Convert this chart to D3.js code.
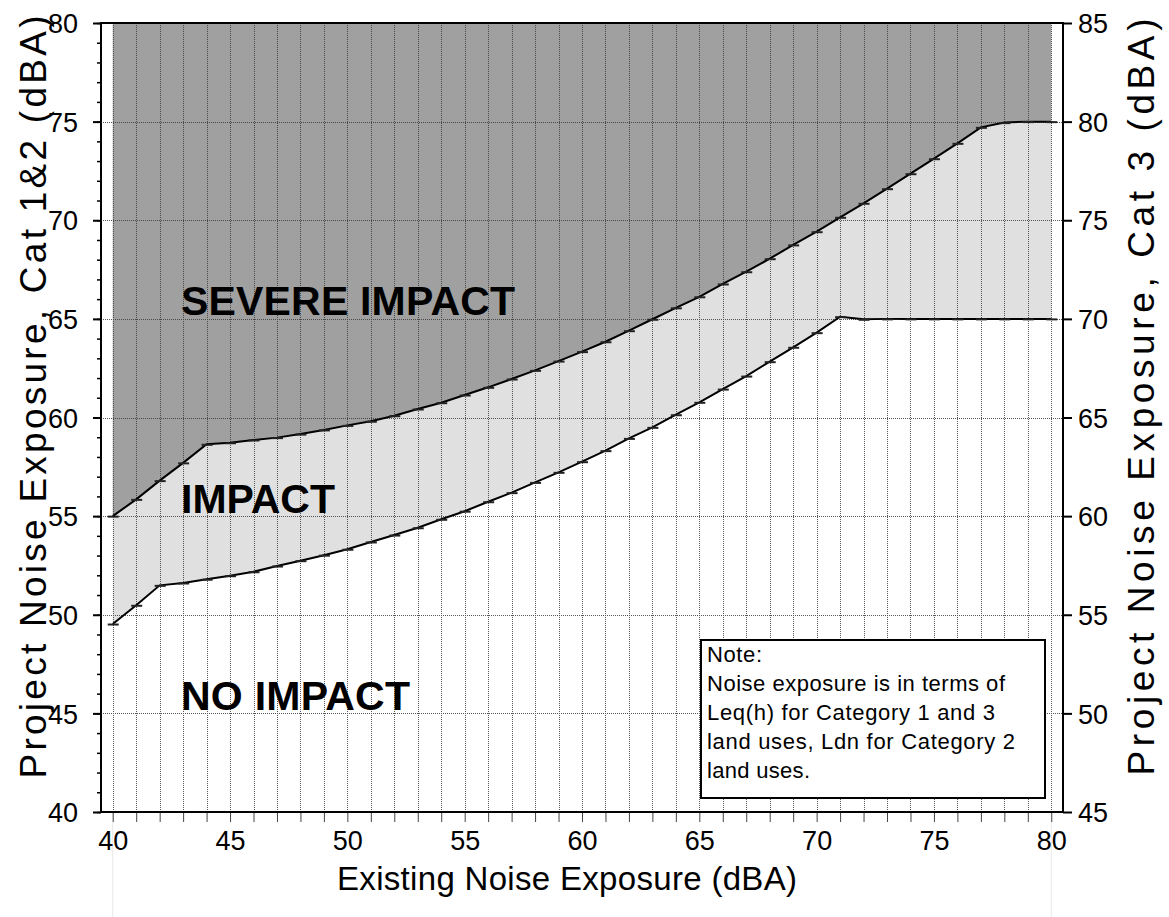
<!DOCTYPE html>
<html>
<head>
<meta charset="utf-8">
<script src="https://cdn.jsdelivr.net/npm/d3@7"></script>
<style>
  html, body { margin: 0; padding: 0; background: #fff; }
  svg { display: block; font-family: "Liberation Sans", Arial, sans-serif; }
</style>
</head>
<body>
<svg id="chart" width="1169" height="917"></svg>
<script>
// ---- data ----
const existing = [40,41,42,43,44,45,46,47,48,49,50,51,52,53,54,55,56,57,58,59,60,
                  61,62,63,64,65,66,67,68,69,70,71,72,73,74,75,76,77,78,79,80];
const severeOnset = [55.0,55.85,56.8,57.7,58.64,58.72,58.86,58.98,59.16,59.37,59.6,
                     59.81,60.09,60.43,60.75,61.14,61.53,61.95,62.39,62.86,63.34,
                     63.84,64.4,64.98,65.56,66.12,66.77,67.39,68.05,68.75,69.42,
                     70.15,70.86,71.6,72.36,73.12,73.9,74.71,74.95,75.0,75.0];
const impactOnset = [49.53,50.48,51.49,51.61,51.8,51.98,52.18,52.47,52.74,53.02,53.32,
                     53.69,54.04,54.41,54.84,55.25,55.73,56.19,56.71,57.22,57.76,
                     58.32,58.94,59.5,60.14,60.77,61.44,62.1,62.83,63.56,64.3,
                     65.11,64.98,65.0,65.0,65.0,65.0,65.0,65.0,65.0,65.0];
const xTickLabels = [40,45,50,55,60,65,70,75,80];
const yLeftTicks = [40,45,50,55,60,65,70,75,80];
const yRightTicks = [45,50,55,60,65,70,75,80,85];
const regionLabels = ["SEVERE IMPACT", "IMPACT", "NO IMPACT"];
const noteLines = ["Note:", "Noise exposure is in terms of", "Leq(h) for Category 1 and 3",
                   "land uses, Ldn for Category 2", "land uses."];
const xTitle = "Existing Noise Exposure (dBA)";
const yLeftTitle = "Project Noise Exposure, Cat 1&2 (dBA)";
const yRightTitle = "Project Noise Exposure, Cat 3 (dBA)";

// ---- layout ----
const L = 101, R = 1063, T = 23, B = 812;
const FONT = "Liberation Sans, Arial, sans-serif";
const svg = d3.select("#chart");
const x = d3.scaleLinear().domain([39.5, 80.5]).range([L, R]);
const y = d3.scaleLinear().domain([40, 80]).range([B, T]);
const yR = d3.scaleLinear().domain([45, 85]).range([B, T]);

const pts = existing.map((e, i) => ({x: e, up: severeOnset[i], lo: impactOnset[i]}));

// faint lines below plot
svg.append("g").selectAll("line").data([40, 80]).join("line")
  .attr("x1", d => x(d)).attr("x2", d => x(d)).attr("y1", B).attr("y2", 917)
  .attr("stroke", "#e8e8e8").attr("stroke-width", 1);

// fills
svg.append("path").datum(pts)
  .attr("d", d3.area().x(d => x(d.x)).y0(y(80)).y1(d => y(d.up)))
  .attr("fill", "#a0a0a0");
svg.append("path").datum(pts)
  .attr("d", d3.area().x(d => x(d.x)).y0(d => y(d.up)).y1(d => y(d.lo)))
  .attr("fill", "#e0e0e0");

// gridlines
const grid = svg.append("g").attr("stroke", "#3a3a3a").attr("stroke-width", 1)
  .attr("stroke-dasharray", "1,1").attr("opacity", 0.85);
grid.selectAll(".v").data(existing).join("line")
  .attr("x1", d => Math.round(x(d)) + 0.5).attr("x2", d => Math.round(x(d)) + 0.5).attr("y1", T).attr("y2", B);
grid.selectAll(".h").data(d3.range(45, 80, 5)).join("line")
  .attr("x1", L).attr("x2", R).attr("y1", d => Math.round(y(d)) + 0.5).attr("y2", d => Math.round(y(d)) + 0.5);

// curves
svg.append("path").datum(pts).attr("d", d3.line().x(d => x(d.x)).y(d => y(d.up)))
  .attr("fill", "none").attr("stroke", "#000").attr("stroke-width", 2);
svg.append("path").datum(pts).attr("d", d3.line().x(d => x(d.x)).y(d => y(d.lo)))
  .attr("fill", "none").attr("stroke", "#000").attr("stroke-width", 2);

// markers (short dashes)
const mk = svg.append("g").attr("stroke", "#222").attr("stroke-width", 2);
mk.selectAll(".mu").data(pts).join("line")
  .attr("x1", d => x(d.x) - 5).attr("x2", d => x(d.x) + 6)
  .attr("y1", d => y(d.up) + 0.5).attr("y2", d => y(d.up) + 0.5);
mk.selectAll(".ml").data(pts).join("line")
  .attr("x1", d => x(d.x) - 5).attr("x2", d => x(d.x) + 6)
  .attr("y1", d => y(d.lo) + 0.5).attr("y2", d => y(d.lo) + 0.5);

// region labels
const regY = [315, 513, 710];
const regW = [334, 154, 229];
svg.append("g").selectAll("text").data(regionLabels).join("text")
  .attr("x", 181).attr("y", (d, i) => regY[i])
  .attr("font-size", 41).attr("font-weight", "bold").attr("fill", "#000")
  .attr("textLength", (d, i) => regW[i]).attr("lengthAdjust", "spacing")
  .text(d => d);

// note box
svg.append("rect").attr("x", 701).attr("y", 640).attr("width", 344).attr("height", 158)
  .attr("fill", "#fff").attr("stroke", "#000").attr("stroke-width", 2);
const noteW = [55, 298, 288, 308, 103];
svg.append("g").selectAll("text").data(noteLines).join("text")
  .attr("x", 707).attr("y", (d, i) => 662 + i * 29)
  .attr("font-size", 22).attr("fill", "#000")
  .attr("textLength", (d, i) => noteW[i]).attr("lengthAdjust", "spacing")
  .text(d => d);

// axes
const axB = svg.append("g").attr("transform", `translate(0,${B})`)
  .call(d3.axisBottom(x).tickValues(existing).tickSize(10).tickSizeOuter(0)
        .tickFormat(d => xTickLabels.includes(d) ? d : ""));
axB.select(".domain").remove();
axB.selectAll(".tick line").attr("stroke", "#444").attr("stroke-width", 1);
axB.selectAll(".tick text").attr("y", 0).attr("dy", 0).attr("transform", "translate(0,38)")
  .attr("font-size", 27).attr("font-family", FONT).attr("fill", "#000");

const axLminor = svg.append("g").attr("transform", `translate(${L},0)`)
  .call(d3.axisLeft(y).tickValues(d3.range(40, 81, 1)).tickSize(4).tickFormat(""));
axLminor.select(".domain").remove();
axLminor.selectAll(".tick line").attr("stroke-width", 1.5);

const axL = svg.append("g").attr("transform", `translate(${L},0)`)
  .call(d3.axisLeft(y).tickValues(yLeftTicks).tickSize(8).tickPadding(15));
axL.select(".domain").remove();
axL.selectAll(".tick line").attr("stroke-width", 2);
axL.selectAll(".tick text").attr("font-size", 27).attr("dy", "0.36em")
  .attr("font-family", FONT).attr("fill", "#000");

const axR = svg.append("g").attr("transform", `translate(${R},0)`)
  .call(d3.axisRight(yR).tickValues(yRightTicks).tickSize(9).tickPadding(6));
axR.select(".domain").remove();
axR.selectAll(".tick line").attr("stroke-width", 2);
axR.selectAll(".tick text").attr("font-size", 27).attr("dy", "0.36em")
  .attr("font-family", FONT).attr("fill", "#000");

// frame
const fr = svg.append("g").attr("stroke", "#000").attr("stroke-width", 2);
fr.append("line").attr("x1", L).attr("x2", L).attr("y1", T - 1).attr("y2", B + 1);
fr.append("line").attr("x1", R).attr("x2", R).attr("y1", T - 1).attr("y2", B + 1);
fr.append("line").attr("x1", L).attr("x2", R).attr("y1", B).attr("y2", B);
fr.append("line").attr("x1", L).attr("x2", R).attr("y1", T).attr("y2", T);

// axis titles
svg.append("text").attr("x", 567).attr("y", 890).attr("text-anchor", "middle")
  .attr("font-size", 33).attr("textLength", 460).attr("lengthAdjust", "spacing")
  .text(xTitle);
svg.append("text").attr("transform", "translate(46,397) rotate(-90)").attr("text-anchor", "middle")
  .attr("font-size", 37).attr("textLength", 763).attr("lengthAdjust", "spacing")
  .text(yLeftTitle);
svg.append("text").attr("transform", "translate(1154,397) rotate(-90)").attr("text-anchor", "middle")
  .attr("font-size", 37).attr("textLength", 757).attr("lengthAdjust", "spacing")
  .text(yRightTitle);
</script>
</body>
</html>
